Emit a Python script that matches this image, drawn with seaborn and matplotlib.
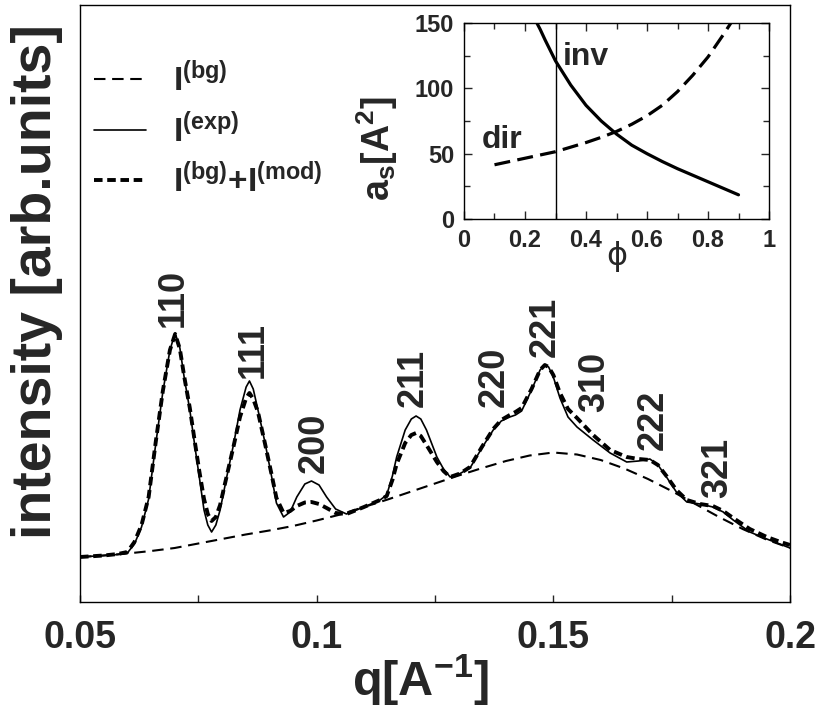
import matplotlib
matplotlib.use("Agg")
import matplotlib.pyplot as plt
import pandas as pd
import seaborn as sns

sns.set_style("ticks")
plt.rcParams['font.family'] = ['Liberation Sans', 'DejaVu Sans']
plt.rcParams['font.weight'] = 'bold'
plt.rcParams['mathtext.fontset'] = 'custom'
plt.rcParams['mathtext.rm'] = 'Liberation Sans:bold'
plt.rcParams['mathtext.it'] = 'Liberation Sans:bold'
plt.rcParams['mathtext.bf'] = 'Liberation Sans:bold'
plt.rcParams['mathtext.sf'] = 'Liberation Sans:bold'

# background I(bg)
q_bg = [0.050, 0.055, 0.060, 0.065, 0.070, 0.075, 0.080, 0.085, 0.090, 0.095,
        0.100, 0.105, 0.110, 0.115, 0.120, 0.125, 0.130, 0.135, 0.140, 0.145,
        0.150, 0.155, 0.160, 0.165, 0.170, 0.175, 0.180, 0.185, 0.190, 0.195, 0.200]
i_bg = [45, 46.5, 48.5, 51, 54, 58.5, 63, 67.5, 71.5, 76,
        81.5, 87.5, 95, 102.5, 110.5, 118.5, 126.5, 134, 141, 146.5,
        149.5, 147.5, 142, 133.5, 123, 111, 98, 85, 73, 62.5, 54]

# experiment I(exp)
q_exp = [0.0500, 0.0550, 0.0580, 0.0600, 0.0615, 0.0630, 0.0645, 0.0660, 0.0675, 0.0690,
         0.0701, 0.0711, 0.0720, 0.0732, 0.0742, 0.0752, 0.0762, 0.0770, 0.0778, 0.0787,
         0.0796, 0.0810, 0.0825, 0.0838, 0.0851, 0.0858, 0.0866, 0.0876, 0.0891, 0.0905,
         0.0915, 0.0930, 0.0944, 0.0958, 0.0975, 0.0989, 0.1005, 0.1021, 0.1040, 0.1063,
         0.1100, 0.1134, 0.1148, 0.1160, 0.1169, 0.1187, 0.1200, 0.1210, 0.1220, 0.1232,
         0.1254, 0.1268, 0.1282, 0.1303, 0.1324, 0.1349, 0.1373, 0.1390, 0.1408, 0.1420,
         0.1433, 0.1454, 0.1472, 0.1482, 0.1490, 0.1500, 0.1514, 0.1531, 0.1550, 0.1584,
         0.1620, 0.1655, 0.1680, 0.1704, 0.1721, 0.1739, 0.1760, 0.1782, 0.1810, 0.1837,
         0.1859, 0.1880, 0.1915, 0.1951, 0.2000]
i_exp = [45, 46.5, 47.5, 49, 58, 75, 103, 158, 210, 252,
         269, 254, 225, 192, 158, 125, 92, 77, 70, 77,
         92, 125, 159, 192, 215, 221, 213, 192, 159, 125,
         99, 85, 90, 105, 118, 121, 117, 105, 93, 88,
         95, 102, 107, 126, 145, 172, 183, 186, 183, 172,
         145, 133, 125, 128.5, 134, 154, 172, 181, 185, 187,
         191, 212, 232, 237, 235, 225, 204, 185, 175, 162,
         149, 140, 141, 143, 137, 125, 110, 100, 98, 95,
         90, 82, 70, 63, 54]

# model I(bg)+I(mod)
q_mod = q_exp[:-1] + [0.1980, 0.2000]
i_mod = [45, 46.5, 48, 50, 60, 77, 105, 160, 211, 252,
         268, 253, 226, 194, 162, 131, 103, 88, 81, 85,
         97, 126, 157, 185, 204, 209, 203, 190, 158, 127,
         104, 89, 91, 96, 99.5, 100, 98, 94, 89, 88,
         95, 102, 106, 122, 138, 159, 167, 169, 166, 157,
         140, 131, 125, 128.5, 135, 155, 173, 182, 187, 190,
         194, 213, 232, 237, 235, 227, 209, 193, 184, 167,
         152, 145, 143, 142, 137, 126, 112, 102, 98, 96,
         91, 84, 73, 65, 60, 57]

peak_labels = ['110', '111', '200', '211', '220', '221', '310', '222', '321']
peak_q = [0.0698, 0.0867, 0.0994, 0.1204, 0.1375, 0.1482, 0.1588, 0.1711, 0.1848]
peak_i = [275, 224, 129, 195, 195, 245, 190, 152, 104]

x_ticks = [0.05, 0.1, 0.15, 0.2]
x_ticklabels = ['0.05', '0.1', '0.15', '0.2']
x_minor = [0.075, 0.125, 0.175]

# inset: a_s versus phi
inv_phi = [0.239, 0.25, 0.266, 0.3, 0.35, 0.4, 0.45, 0.5, 0.55, 0.6, 0.65, 0.7, 0.75, 0.8, 0.85, 0.9]
inv_a = [150, 145, 137, 121, 102.5, 87, 75, 65, 56.5, 50, 44, 38.5, 33.5, 28.5, 23.5, 18.5]
dir_phi = [0.1, 0.15, 0.2, 0.25, 0.3, 0.35, 0.4, 0.45, 0.5, 0.55, 0.6, 0.65, 0.7, 0.75, 0.8, 0.85, 0.875]
dir_a = [41.5, 44, 46.5, 49, 51.5, 55, 58.5, 62.5, 67, 72.5, 79, 87, 97.5, 110, 124, 141, 150]
phi_mark = 0.3
in_xticks = [0, 0.2, 0.4, 0.6, 0.8, 1]
in_xticklabels = ['0', '0.2', '0.4', '0.6', '0.8', '1']
in_yticks = [0, 50, 100, 150]
in_yticklabels = ['0', '50', '100', '150']

fig = plt.figure(figsize=(8.18, 7.12), dpi=100)
ax = fig.add_axes([80 / 818, 1 - 602 / 712, 710 / 818, 597 / 712])

bg = pd.DataFrame({'q': q_bg, 'I': i_bg})
ex = pd.DataFrame({'q': q_exp, 'I': i_exp})
md = pd.DataFrame({'q': q_mod, 'I': i_mod})

sns.lineplot(data=bg, x='q', y='I', ax=ax, color='k', lw=1.5, sort=False,
             linestyle=(0, (5.5, 3.2)), label=r'I$^{(bg)}$')
sns.lineplot(data=ex, x='q', y='I', ax=ax, color='k', lw=1.2, sort=False,
             label=r'I$^{(exp)}$')
sns.lineplot(data=md, x='q', y='I', ax=ax, color='k', lw=2.8, sort=False,
             linestyle=(0, (2.2, 1.2)), label=r'I$^{(bg)}$+I$^{(mod)}$')

for lab, q, i in zip(peak_labels, peak_q, peak_i):
    ax.text(q, i, lab, rotation=90, ha='center', va='bottom', fontsize=26, fontweight='bold')

ax.set_xlim(0.05, 0.2)
ax.set_ylim(0, 597)
ax.set_xticks(x_ticks)
ax.set_xticklabels(x_ticklabels, fontsize=27, fontweight='bold')
ax.set_xticks(x_minor, minor=True)
ax.set_yticks([])
ax.tick_params(axis='x', which='both', direction='in', length=5, width=1, pad=13, top=False)
for s in ax.spines.values():
    s.set_linewidth(1)
    s.set_color('k')

ax.set_ylabel('intensity [arb.units]', fontsize=40, fontweight='bold')
ax.yaxis.set_label_coords(-0.024, 0.536)
ax.set_xlabel(r'q[A$^{-1}$]', fontsize=35, fontweight='bold')
ax.xaxis.set_label_coords(0.479, -0.085)

ax.legend(loc='upper left', bbox_to_anchor=(0.02, 0.905), frameon=False, fontsize=24,
          handlelength=1.55, handletextpad=0.8, labelspacing=0.45, borderpad=0, borderaxespad=0)

# inset
ax_in = fig.add_axes([464 / 818, 1 - 219 / 712, 305 / 818, 196 / 712])
sns.lineplot(x=inv_phi, y=inv_a, ax=ax_in, color='k', lw=2.3, sort=False)
sns.lineplot(x=dir_phi, y=dir_a, ax=ax_in, color='k', lw=2.3, sort=False,
             linestyle=(0, (5, 2.3)))
ax_in.axvline(phi_mark, color='k', lw=1)
ax_in.text(0.325, 118, 'inv', fontsize=23, fontweight='bold', ha='left', va='baseline')
ax_in.text(0.059, 54, 'dir', fontsize=23, fontweight='bold', ha='left', va='baseline')
ax_in.set_xlim(0, 1)
ax_in.set_ylim(0, 150)
ax_in.set_xticks(in_xticks)
ax_in.set_xticklabels(in_xticklabels, fontsize=17, fontweight='bold')
ax_in.set_yticks(in_yticks)
ax_in.set_yticklabels(in_yticklabels, fontsize=17, fontweight='bold')
ax_in.set_xticks([0.1, 0.3, 0.5, 0.7, 0.9], minor=True)
ax_in.set_yticks([25, 75, 125], minor=True)
ax_in.tick_params(which='both', direction='in', top=True, right=True, width=1, pad=7)
ax_in.tick_params(which='major', length=6)
ax_in.tick_params(which='minor', length=4)
for s in ax_in.spines.values():
    s.set_linewidth(1)
    s.set_color('k')
ax_in.set_xlabel('\u03d5', fontsize=23, fontweight='normal', family=['DejaVu Sans'])
ax_in.xaxis.set_label_coords(0.5, -0.11)
ax_in.set_ylabel(r'a$_s$[A$^2$]', fontsize=27, fontweight='bold')
ax_in.yaxis.set_label_coords(-0.21, 0.36)

fig.savefig('out.png', dpi=100)
